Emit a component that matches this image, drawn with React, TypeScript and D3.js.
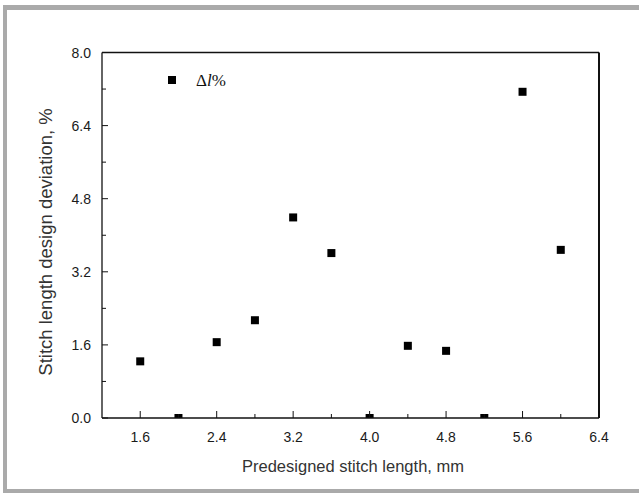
import React from "react";
import * as d3 from "d3";

const xValues = [1.6, 2.0, 2.4, 2.8, 3.2, 3.6, 4.0, 4.4, 4.8, 5.2, 5.6, 6.0];
const yValues = [1.24, 0.0, 1.66, 2.14, 4.39, 3.61, 0.0, 1.58, 1.47, 0.0, 7.14, 3.68];
const xTicks = [1.6, 2.4, 3.2, 4.0, 4.8, 5.6, 6.4];
const xMinorTicks = [2.0, 2.8, 3.6, 4.4, 5.2, 6.0];
const yTicks = [0, 1.6, 3.2, 4.8, 6.4, 8.0];
const yMinorTicks = [0.8, 2.4, 4.0, 5.6, 7.2];
const xTitle = "Predesigned stitch length, mm";
const yTitle = "Stitch length design deviation, %";

const W = 639;
const H = 493;
const L = 102, R = 599, T = 52.5, B = 418;

export default function App() {
  const x = d3.scaleLinear().domain([1.2, 6.4]).range([L, R]);
  const y = d3.scaleLinear().domain([0, 8]).range([B, T]);
  const ms = 8;
  const font = "'Liberation Sans', Arial, sans-serif";
  return (
    <svg width={W} height={H} style={{ position: "absolute", left: 0, top: 0 }}>
      <rect x={0} y={0} width={W} height={H} fill="#fff" />
      {/* frame */}
      <rect x={3} y={5} width={W - 3} height={5} fill="#aaaaaa" />
      <rect x={3} y={5} width={4} height={H - 5} fill="#aaaaaa" />
      <rect x={3} y={489} width={W - 3} height={4} fill="#aaaaaa" />
      <defs>
        <clipPath id="plotclip">
          <rect x={L} y={T} width={R - L} height={B - T} />
        </clipPath>
      </defs>
      <g clipPath="url(#plotclip)">
        {xValues.map((xv, i) => (
          <rect key={i} x={x(xv) - ms / 2} y={y(yValues[i]) - ms / 2} width={ms} height={ms} fill="#000" />
        ))}
      </g>
      {/* axes box */}
      <line x1={L} y1={T} x2={R} y2={T} stroke="#111" strokeWidth={1.3} />
      <line x1={L} y1={T} x2={L} y2={B} stroke="#111" strokeWidth={1.3} />
      <line x1={L} y1={B} x2={R} y2={B} stroke="#111" strokeWidth={1.3} />
      <line x1={R} y1={T} x2={R} y2={B} stroke="#111" strokeWidth={2} />
      {xTicks.map((t) => (
        <g key={"xt" + t}>
          <line x1={x(t)} x2={x(t)} y1={B} y2={B - 7} stroke="#111" strokeWidth={1} />
          <text x={x(t)} y={B + 23.5} textAnchor="middle" fontFamily={font} fontSize={14} fill="#1a1a1a">{t.toFixed(1)}</text>
        </g>
      ))}
      {xMinorTicks.map((t) => (
        <line key={"xm" + t} x1={x(t)} x2={x(t)} y1={B} y2={B - 4} stroke="#111" strokeWidth={1} />
      ))}
      {yTicks.map((t) => (
        <g key={"yt" + t}>
          <line x1={L} x2={L + 6} y1={y(t)} y2={y(t)} stroke="#111" strokeWidth={1} />
          <text x={L - 11} y={y(t) + 5} textAnchor="end" fontFamily={font} fontSize={14} fill="#1a1a1a">{t.toFixed(1)}</text>
        </g>
      ))}
      {yMinorTicks.map((t) => (
        <line key={"ym" + t} x1={L} x2={L + 4} y1={y(t)} y2={y(t)} stroke="#111" strokeWidth={1} />
      ))}
      {/* legend */}
      <rect x={172 - ms / 2} y={80 - ms / 2} width={ms} height={ms} fill="#000" />
      <text x={196} y={86} fontFamily="'Liberation Serif', 'Times New Roman', serif" fontSize={17} fill="#111">
        Δ<tspan fontStyle="italic">l</tspan>%
      </text>
      <text x={353} y={472} textAnchor="middle" fontFamily={font} fontSize={16.5} fill="#333">{xTitle}</text>
      <text transform={`translate(52,242) rotate(-90)`} textAnchor="middle" fontFamily={font} fontSize={18.5} fill="#333">{yTitle}</text>
    </svg>
  );
}
